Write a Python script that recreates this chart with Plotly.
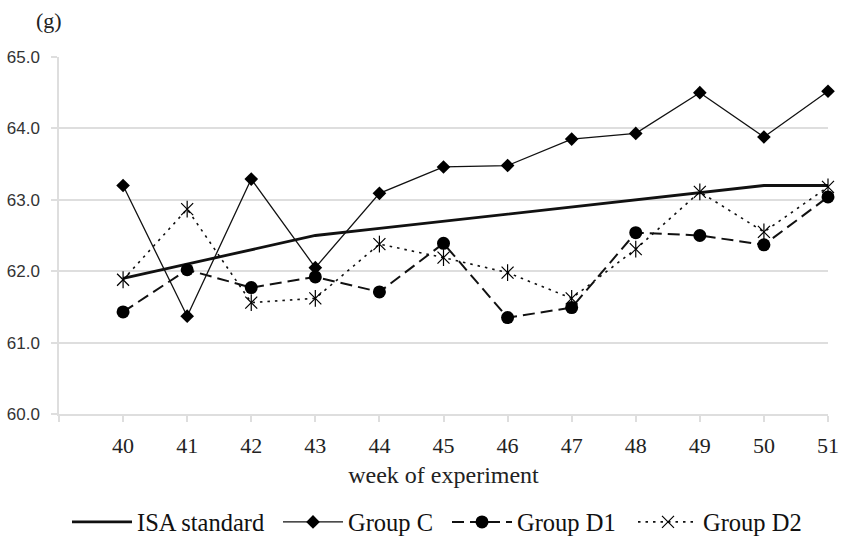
import plotly.graph_objects as go

weeks = [40, 41, 42, 43, 44, 45, 46, 47, 48, 49, 50, 51]
isa_standard = [61.9, 62.1, 62.3, 62.5, 62.6, 62.7, 62.8, 62.9, 63.0, 63.1, 63.2, 63.2]
group_c = [63.20, 61.37, 63.29, 62.05, 63.09, 63.46, 63.48, 63.85, 63.93, 64.50, 63.88, 64.52]
group_d1 = [61.43, 62.02, 61.77, 61.92, 61.71, 62.39, 61.35, 61.49, 62.54, 62.50, 62.37, 63.04]
group_d2 = [61.88, 62.87, 61.56, 61.62, 62.38, 62.19, 61.98, 61.62, 62.31, 63.11, 62.55, 63.18]

x_tickvals = [39] + weeks
x_ticktext = [""] + [str(w) for w in weeks]
y_tickvals = [60, 61, 62, 63, 64, 65]

serif = "Liberation Serif, Times New Roman, serif"
sans = "Liberation Sans, Arial, sans-serif"
grid = "#dedede"
W, H = 841, 538

fig = go.Figure()
fig.add_trace(go.Scatter(x=weeks, y=isa_standard, name="ISA standard", mode="lines",
                         line=dict(color="#111", width=2.8), cliponaxis=False, legend="legend"))
fig.add_trace(go.Scatter(x=weeks, y=group_c, name="Group C", mode="lines+markers",
                         line=dict(color="#111", width=1.3),
                         marker=dict(symbol="diamond", size=10.5, color="#000"), cliponaxis=False,
                         legend="legend2"))
fig.add_trace(go.Scatter(x=weeks, y=group_d1, name="Group D1", mode="lines+markers",
                         line=dict(color="#111", width=2, dash="12px,6px"),
                         marker=dict(symbol="circle", size=13, color="#000"), cliponaxis=False,
                         legend="legend3"))
fig.add_trace(go.Scatter(x=weeks, y=group_d2, name="Group D2", mode="lines+markers",
                         line=dict(color="#111", width=1.6, dash="2.5px,5px"),
                         marker=dict(symbol="x-thin-open", size=12, color="#000",
                                     line=dict(color="#000", width=1.2)), cliponaxis=False,
                         legend="legend4"))
# vertical arm of the six-armed asterisk markers
fig.add_trace(go.Scatter(x=weeks, y=group_d2, name="Group D2", mode="markers",
                         marker=dict(symbol="line-ns-open", size=12, color="#000",
                                     line=dict(color="#000", width=1.2)), cliponaxis=False,
                         showlegend=False, hoverinfo="skip"))


def leg(px):
    return dict(orientation="h", xref="container", yref="container",
                x=px / W, xanchor="left", y=1 - 522 / H, yanchor="middle",
                font=dict(family=serif, size=24.5, color="#111"),
                itemwidth=60, bgcolor="rgba(0,0,0,0)", borderwidth=0)


fig.update_layout(
    width=W, height=H,
    margin=dict(l=59, r=13, t=57, b=124, autoexpand=False),
    paper_bgcolor="white", plot_bgcolor="white",
    showlegend=True,
    legend=leg(67), legend2=leg(278), legend3=leg(447), legend4=leg(633),
    xaxis=dict(range=[39, 51], tickvals=x_tickvals, ticktext=x_ticktext,
               showgrid=False, zeroline=False, showline=True, linecolor=grid, linewidth=1.5,
               ticks="outside", ticklen=6, tickcolor=grid, tickwidth=1.5,
               tickfont=dict(family=serif, size=22, color="#222"),
               ticklabelstandoff=5, automargin=False,
               title=dict(text="week of experiment", font=dict(family=serif, size=24, color="#222"),
                          standoff=9)),
    yaxis=dict(range=[60, 65], tickvals=y_tickvals, tickformat=".1f",
               showgrid=True, gridcolor=grid, gridwidth=1.5, zeroline=False,
               showline=True, linecolor=grid, linewidth=1.5,
               ticks="outside", ticklen=6, tickcolor=grid, tickwidth=1.5,
               tickfont=dict(family=sans, size=17, color="#333"),
               ticklabelstandoff=8, automargin=False),
    annotations=[dict(text="(g)", xref="paper", yref="paper", x=-0.013, y=1.0,
                      xanchor="center", yanchor="bottom", yshift=22, showarrow=False,
                      font=dict(family=serif, size=22, color="#222"))],
)

fig.write_html("out.html", config={"displayModeBar": False},
               post_script="document.body.style.margin='0px';")
